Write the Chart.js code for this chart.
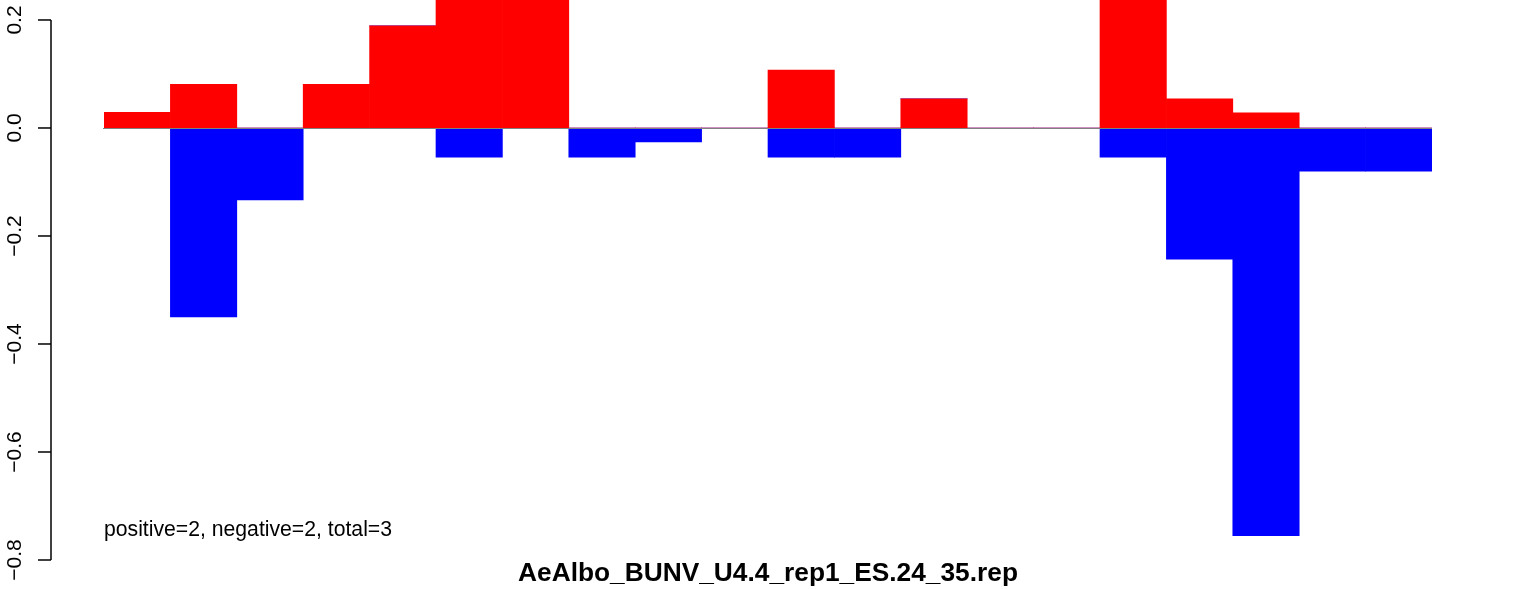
<!DOCTYPE html>
<html>
<head>
<meta charset="utf-8">
<script src="https://cdn.jsdelivr.net/npm/chart.js@4"></script>
<style>
  body { margin: 0; background: #fff; }
  #wrap { width: 1536px; height: 589px; }
</style>
</head>
<body>
<div id="wrap"><canvas id="repChart" width="1536" height="589"></canvas></div>
<script>
// 20 bins, values
const bins = ['1','2','3','4','5','6','7','8','9','10','11','12','13','14','15','16','17','18','19','20'];
const positive = [0.029, 0.081, 0, 0.081, 0.189, 0.3, 0.3, 0, 0, 0, 0.107, 0, 0.054, 0, 0, 0.3, 0.054, 0.028, 0, 0];
const negative = [0, -0.35, -0.133, 0, 0, -0.054, 0, -0.054, -0.026, 0, -0.054, -0.054, 0, 0, 0, -0.054, -0.243, -0.755, -0.08, -0.08];
const yTicks = [0.2, 0.0, -0.2, -0.4, -0.6, -0.8];
const title = 'AeAlbo_BUNV_U4.4_rep1_ES.24_35.rep';
const note = 'positive=2, negative=2, total=3';

const fontName = '"Liberation Sans", Arial, Helvetica, sans-serif';

function fmt(v) {
  let s = Math.abs(v).toFixed(1);
  return (v < 0 ? '\u2212' : '') + s;
}

// R-style left axis, zero line and texts
const rDecor = {
  id: 'rDecor',
  afterDatasetsDraw(chart) {
    const ctx = chart.ctx;
    const y = chart.scales.y;
    const area = chart.chartArea;
    ctx.save();
    // zero line
    const y0 = Math.round(y.getPixelForValue(0)) + 0.5;
    ctx.strokeStyle = '#808080';
    ctx.lineWidth = 1;
    ctx.beginPath();
    ctx.moveTo(area.left - 1, y0);
    ctx.lineTo(area.right, y0);
    ctx.stroke();
    ctx.restore();
  },
  afterDraw(chart) {
    const ctx = chart.ctx;
    const y = chart.scales.y;
    const axisX = 51;
    ctx.save();
    ctx.strokeStyle = '#000';
    ctx.lineWidth = 1.5;
    ctx.beginPath();
    ctx.moveTo(axisX, y.getPixelForValue(yTicks[yTicks.length - 1]));
    ctx.lineTo(axisX, y.getPixelForValue(yTicks[0]));
    ctx.stroke();
    ctx.fillStyle = '#000';
    ctx.font = '21px ' + fontName;
    ctx.textAlign = 'center';
    ctx.textBaseline = 'middle';
    yTicks.forEach(v => {
      const py = y.getPixelForValue(v);
      ctx.beginPath();
      ctx.moveTo(axisX, py);
      ctx.lineTo(axisX - 13, py);
      ctx.stroke();
      ctx.save();
      ctx.translate(15, py);
      ctx.rotate(-Math.PI / 2);
      ctx.fillText(fmt(v), 0, 0);
      ctx.restore();
    });
    // note text
    ctx.textAlign = 'left';
    ctx.textBaseline = 'alphabetic';
    ctx.font = '21.2px ' + fontName;
    ctx.fillText(note, chart.chartArea.left, 536);
    // title
    ctx.font = 'bold 26.3px ' + fontName;
    ctx.textAlign = 'center';
    ctx.fillText(title, 768, 581);
    ctx.restore();
  }
};

new Chart(document.getElementById('repChart'), {
  type: 'bar',
  data: {
    labels: bins,
    datasets: [
      { data: positive, backgroundColor: '#ff0000', borderWidth: 0 },
      { data: negative, backgroundColor: '#0000ff', borderWidth: 0 }
    ]
  },
  options: {
    responsive: false,
    animation: false,
    events: [],
    layout: { padding: { left: 104, right: 104, top: 0, bottom: 29 } },
    datasets: { bar: { barPercentage: 1, categoryPercentage: 1 } },
    scales: {
      x: { stacked: true, display: false, offset: true },
      y: { stacked: true, display: false, min: -0.8, max: 0.237 }
    },
    plugins: {
      legend: { display: false },
      tooltip: { enabled: false },
      title: { display: false }
    }
  },
  plugins: [rDecor]
});
</script>
</body>
</html>
